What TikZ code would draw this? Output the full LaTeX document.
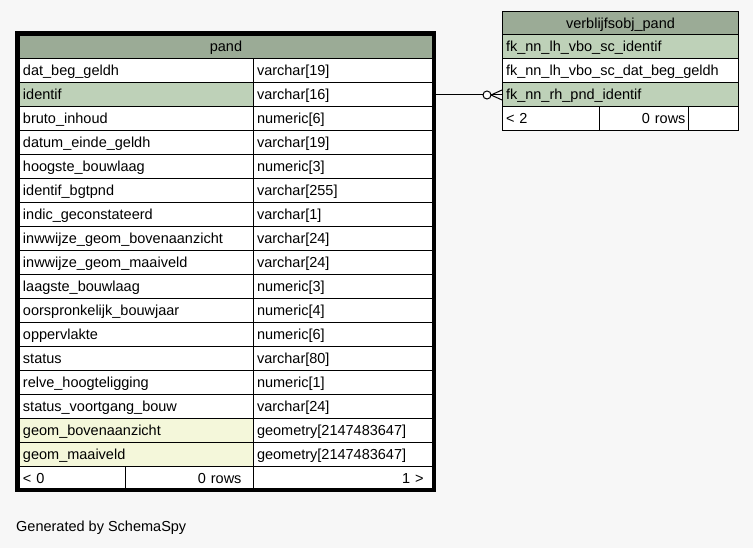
\documentclass[tikz,border=0pt]{standalone}
\usepackage{fontspec}
\setmainfont{Liberation Sans}

\definecolor{headgreen}{HTML}{9BAB96}
\definecolor{keygreen}{HTML}{BED1B8}
\definecolor{idxyellow}{HTML}{F4F7DA}
\definecolor{canvas}{HTML}{F7F7F7}

\tikzset{
  tblcell/.style={draw, line width=1pt, fill=white, anchor=north west,
    inner xsep=3.5pt, inner ysep=0pt, minimum height=24pt,
    text height=10pt, text depth=0pt, align=left},
  namecol/.style={tblcell, text width=227pt},
  typecol/.style={tblcell, text width=172pt},
  vbocol/.style={tblcell, text width=229pt},
  tblhead/.style={tblcell, fill=headgreen, align=center, inner xsep=0pt,
    minimum height=23.5pt},
}

\begin{document}
\begin{tikzpicture}[x=1pt,y=-1pt,font=\fontsize{14.5}{17}\selectfont]
  \useasboundingbox[fill=canvas] (0,0) rectangle (753,548);

  %% table pand
  \node[tblhead, minimum width=413pt, minimum height=23pt] (phead) at (19,35) {pand};

  \node[namecol] (pname1) at (19,58) {dat\_beg\_geldh};
  \node[typecol] (ptype1) at (253,58) {varchar[19]};
  \node[namecol, fill=keygreen] (pname2) at (19,82) {identif};
  \node[typecol] (ptype2) at (253,82) {varchar[16]};
  \node[namecol] (pname3) at (19,106) {bruto\_inhoud};
  \node[typecol] (ptype3) at (253,106) {numeric[6]};
  \node[namecol] (pname4) at (19,130) {datum\_einde\_geldh};
  \node[typecol] (ptype4) at (253,130) {varchar[19]};
  \node[namecol] (pname5) at (19,154) {hoogste\_bouwlaag};
  \node[typecol] (ptype5) at (253,154) {numeric[3]};
  \node[namecol] (pname6) at (19,178) {identif\_bgtpnd};
  \node[typecol] (ptype6) at (253,178) {varchar[255]};
  \node[namecol] (pname7) at (19,202) {indic\_geconstateerd};
  \node[typecol] (ptype7) at (253,202) {varchar[1]};
  \node[namecol] (pname8) at (19,226) {inwwijze\_geom\_bovenaanzicht};
  \node[typecol] (ptype8) at (253,226) {varchar[24]};
  \node[namecol] (pname9) at (19,250) {inwwijze\_geom\_maaiveld};
  \node[typecol] (ptype9) at (253,250) {varchar[24]};
  \node[namecol] (pname10) at (19,274) {laagste\_bouwlaag};
  \node[typecol] (ptype10) at (253,274) {numeric[3]};
  \node[namecol] (pname11) at (19,298) {oorspronkelijk\_bouwjaar};
  \node[typecol] (ptype11) at (253,298) {numeric[4]};
  \node[namecol] (pname12) at (19,322) {oppervlakte};
  \node[typecol] (ptype12) at (253,322) {numeric[6]};
  \node[namecol] (pname13) at (19,346) {status};
  \node[typecol] (ptype13) at (253,346) {varchar[80]};
  \node[namecol] (pname14) at (19,370) {relve\_hoogteligging};
  \node[typecol] (ptype14) at (253,370) {numeric[1]};
  \node[namecol] (pname15) at (19,394) {status\_voortgang\_bouw};
  \node[typecol] (ptype15) at (253,394) {varchar[24]};
  \node[namecol, fill=idxyellow] (pname16) at (19,418) {geom\_bovenaanzicht};
  \node[typecol] (ptype16) at (253,418) {geometry[2147483647]};
  \node[namecol, fill=idxyellow] (pname17) at (19,442) {geom\_maaiveld};
  \node[typecol] (ptype17) at (253,442) {geometry[2147483647]};

  %% footer
  \node[tblcell, text width=99pt] (pfoot1) at (19,466) {< 0};
  \node[tblcell, align=right, inner xsep=12pt, text width=104pt] (pfoot2) at (125,466) {0 rows};
  \node[tblcell, align=right, inner xsep=9pt, text width=161pt] (pfoot3) at (253,466) {1 >};

  %% table verblijfsobj_pand
  \node[tblhead, minimum width=236pt] (vhead) at (502,11) {verblijfsobj\_pand};
  \node[vbocol, fill=keygreen] (vfk1) at (502,34.5) {fk\_nn\_lh\_vbo\_sc\_identif};
  \node[vbocol] (vfk2) at (502,58.5) {fk\_nn\_lh\_vbo\_sc\_dat\_beg\_geldh};
  \node[vbocol, fill=keygreen] (vfk3) at (502,82.5) {fk\_nn\_rh\_pnd\_identif};
  \node[tblcell, text width=90pt] (vfoot1) at (502,106.5) {< 2};
  \node[tblcell, align=right, inner xsep=3pt, text width=83pt] (vfoot2) at (599,106.5) {0 rows};
  \node[tblcell, text width=43pt] (vfoot3) at (688,106.5) {};

  %% relation identif -> fk_nn_rh_pnd_identif
  \coordinate (crowtip) at (vfk3.west);
  \coordinate (crowroot) at ([xshift=-11pt]crowtip);
  \draw[line width=1pt] (ptype2.east |- crowtip) -- ([xshift=-19pt]crowtip);
  \draw[line width=1pt, fill=white] ([xshift=-15pt]crowtip) circle (4pt);
  \draw[line width=1pt] ([yshift=5pt]crowtip) -- (crowroot) -- ([yshift=-5pt]crowtip);
  \draw[line width=1pt] (crowroot) -- (crowtip);

  %% outer frame of pand
  \draw[line width=4pt] (17,33) rectangle (434,490);

  \node[anchor=base west, inner sep=0pt] (gen) at (16,531.5) {Generated by SchemaSpy};
\end{tikzpicture}
\end{document}
